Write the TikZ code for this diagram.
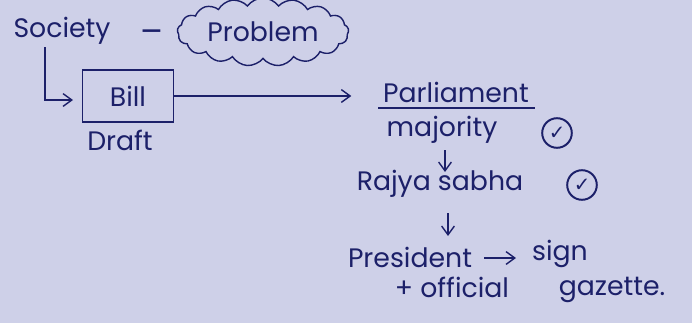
\documentclass[tikz,border=0pt]{standalone}
\usepackage{fontspec}
\setmainfont{Poppins}
\newfontfamily\symfont{DejaVu Sans}
\usetikzlibrary{shapes.symbols, arrows.meta}
\definecolor{ink}{RGB}{28,32,105}
\definecolor{paper}{RGB}{206,208,232}
\tikzstyle{word}=[text=ink, inner sep=0pt, font=\fontsize{19}{22}\selectfont]
\tikzstyle{tick}=[circle, draw=ink, line width=1.4pt, inner sep=.8mm, text=ink, font=\symfont\bfseries\fontsize{14}{15}\selectfont]
\tikzstyle{pen}=[draw=ink, line width=1pt, >={Straight Barb[length=2.2mm, width=3.2mm]}]

\begin{document}
\begin{tikzpicture}[x=0.025cm, y=-0.025cm]
  \fill[paper] (0,0) rectangle (692,323);
  \useasboundingbox (0,0) rectangle (692,323);

  \node[word] (soc) at (62,31) {Society};
  \node[word, font=\fontsize{24}{26}\selectfont] (dash) at (152,37) {–};
  \node[word, cloud, cloud puffs=17, cloud puff arc=110, aspect=3.2, pen, inner sep=3pt] (prob) at (263,32) {Problem};

  \node[word, pen, minimum width=2.28cm, minimum height=1.3cm] (bill) at (128,96) {Bill};
  \node[word] (draft) at (120,140) {Draft};
  \coordinate (top) at (45,47);
  \coordinate (turn) at (45,100);

  \node[word] (parl) at (456,92) {Parliament};
  \node[word] (maj) at (442,130) {majority};
  \node[tick] (ok1) at (557,133) {✓};
  \node[word] (rs) at (440,184) {Rajya sabha};
  \node[tick] (ok2) at (582,185) {✓};
  \node[word] (pres) at (410,257) {President};
  \node[word] (sign) at (560,254) {sign};
  \node[word] (off) at (452,287) {+ official};
  \node[word] (gaz) at (612,290) {gazette.};

  \coordinate (u1) at (378,108);
  \coordinate (u2) at (535,108);
  \coordinate (d1) at (445,150);
  \coordinate (d2) at (445,172);
  \coordinate (e1) at (448,213);
  \coordinate (e2) at (448,236);
  \coordinate (s1) at (484,258);
  \coordinate (s2) at (516,258);

  \draw[pen, ->] (top) -- (turn) -- ++(28,0);
  \draw[pen, ->] (bill.east) -- ++(177,0);
  \draw[pen] (u1) -- (u2);
  \draw[pen, ->] (d1) -- (d2);
  \draw[pen, ->] (e1) -- (e2);
  \draw[pen, ->] (s1) -- (s2);
\end{tikzpicture}
\end{document}
